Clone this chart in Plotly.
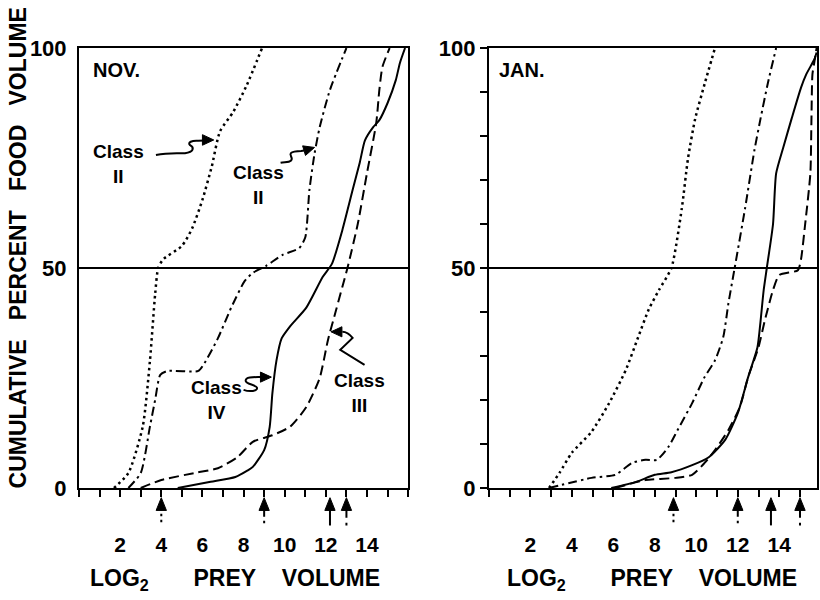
import plotly.graph_objects as go

# ---------------- data ----------------
x_tick_vals = list(range(0, 17))
x_tick_labels = ["", "", "2", "", "4", "", "6", "", "8", "", "10", "", "12", "", "14", "", ""]
y_tick_vals_left = [0, 50, 100]
y_tick_labels_left = ["0", "50", "100"]
y_minor_ticks = [10, 20, 30, 40, 60, 70, 80, 90]
y_tick_vals_right = [0, 10, 20, 30, 40, 50, 60, 70, 80, 90, 100]
y_tick_labels_right = ["0", "", "", "", "", "50", "", "", "", "", "100"]

# NOV. panel
nov_dot_x = [1.7, 2.4, 3.1, 3.45, 3.7, 3.85, 4.1, 5.0, 5.5, 6.0, 6.45, 6.85, 7.5, 8.15, 8.9]
nov_dot_y = [0, 3.4, 14, 29, 44, 50, 52, 55, 59, 65.5, 73, 81, 85.5, 91.5, 100]
nov_dashdot_x = [2.4, 3.0, 3.45, 3.7, 3.95, 4.3, 5.8, 6.1, 6.75, 7.4, 8.05, 8.45, 9.1, 9.9, 10.7, 11.0, 11.2, 11.45, 11.7, 12.2, 13.0]
nov_dashdot_y = [0, 3.4, 14, 20, 25.7, 26.6, 26.6, 28.4, 34, 41, 47, 48.9, 50.5, 53, 54.5, 57, 67.7, 76, 82, 90.5, 100]
nov_solid_x = [4.8, 6.4, 7.6, 8.2, 8.45, 9.0, 9.27, 9.4, 9.6, 9.85, 10.25, 11.05, 11.85, 12.3, 12.8, 13.3, 13.65, 13.9, 14.3, 14.6, 15.0, 15.4, 15.6, 15.85]
nov_solid_y = [0, 1.4, 2.5, 4, 4.8, 8.6, 13.9, 21.5, 29, 34, 36.7, 41, 48, 51, 58.6, 67.7, 74, 79, 82, 83.6, 87.5, 92.7, 96.6, 100]
nov_dash_x = [3.0, 4.0, 5.6, 6.75, 7.7, 8.45, 9.4, 10.25, 11.05, 11.7, 12.1, 12.5, 12.8, 13.05, 13.55, 14.0, 14.45, 14.6, 14.75, 15.1]
nov_dash_y = [0, 1.8, 3.4, 4.5, 7, 10.5, 12, 13.9, 18.4, 25, 33.6, 40.5, 45.7, 50, 60, 71.6, 83, 90.5, 95.7, 100]
nov_medians = [4.0, 9.0, 12.2, 13.0]   # dot, dashdot, solid, dash

# JAN. panel
jan_dot_x = [2.9, 3.4, 4.0, 4.95, 5.8, 6.6, 7.2, 7.7, 8.2, 8.8, 9.3, 9.6, 9.95, 10.4, 10.9]
jan_dot_y = [0, 3.4, 8, 12.8, 19.3, 26.8, 34.3, 40.5, 45, 50, 63.5, 74.9, 84, 91.8, 100]
jan_dashdot_x = [2.9, 4.95, 6.1, 6.9, 7.55, 8.1, 8.65, 9.1, 9.8, 10.4, 10.9, 11.3, 11.55, 11.85, 12.35, 12.8, 13.1, 13.45, 13.85]
jan_dashdot_y = [0, 2.3, 3, 5.7, 6.4, 6.4, 9.3, 13.2, 19.3, 25.2, 29, 34.3, 42, 50, 63.5, 76.7, 84, 92, 100]
jan_solid_x = [5.9, 7.1, 8.0, 8.8, 9.8, 10.6, 11.4, 12.0, 12.5, 12.95, 13.1, 13.25, 13.4, 13.7, 13.85, 14.2, 14.6, 15.05, 15.3, 15.7, 15.8]
jan_solid_y = [0, 1.4, 3, 3.6, 5.2, 7, 11, 17, 25.2, 32, 38, 45, 50, 60, 71.5, 77.5, 84, 91, 94, 97.5, 99]
jan_dash_x = [6.1, 7.55, 9.0, 9.8, 10.4, 10.9, 11.55, 12.1, 12.5, 13.0, 13.3, 13.7, 14.0, 14.9, 15.05, 15.25, 15.5, 15.55, 15.6, 15.7, 15.8]
jan_dash_y = [0, 1.8, 2.3, 3, 5.7, 8.6, 13.2, 18.4, 25.2, 32, 38, 45, 48.4, 49.5, 52, 60, 71.5, 83, 94, 97, 100]
jan_medians = [8.9, 12.0, 13.6, 15.0]

# ---------------- styles ----------------
FONT = "Liberation Sans"
BLACK = "black"
STYLES = {
    "dot": dict(width=2.5, dash="2.5px,3.5px"),
    "dashdot": dict(width=2, dash="9px,4px,2.5px,4px"),
    "solid": dict(width=2, dash="solid"),
    "dash": dict(width=2, dash="10px,5px"),
}
ORDER = ["dot", "dashdot", "solid", "dash"]

fig = go.Figure()

panels = [
    ("x", "y", [(nov_dot_x, nov_dot_y), (nov_dashdot_x, nov_dashdot_y),
                (nov_solid_x, nov_solid_y), (nov_dash_x, nov_dash_y)], nov_medians),
    ("x2", "y2", [(jan_dot_x, jan_dot_y), (jan_dashdot_x, jan_dashdot_y),
                  (jan_solid_x, jan_solid_y), (jan_dash_x, jan_dash_y)], jan_medians),
]

shapes = []
for xa, ya, curves, medians in panels:
    for key, (cx, cy) in zip(ORDER, curves):
        st = STYLES[key]
        fig.add_trace(go.Scatter(
            x=cx, y=cy, mode="lines", xaxis=xa, yaxis=ya, showlegend=False,
            hoverinfo="skip",
            line=dict(color=BLACK, width=st["width"], dash=st["dash"],
                      shape="spline", smoothing=0.6)))
    # median arrows below the axis (x in data units, y in axis-domain units)
    for key, m in zip(ORDER, medians):
        st = STYLES[key]
        shapes.append(dict(type="line", xref=xa, yref=ya + " domain",
                           x0=m, x1=m, y0=-0.045, y1=-0.085,
                           line=dict(color=BLACK, width=2, dash=st["dash"])))
        shapes.append(dict(type="path", xref=xa, yref=ya + " domain",
                           path=f"M {m-0.25},-0.051 L {m},-0.022 L {m+0.25},-0.051 Z",
                           fillcolor=BLACK, line=dict(color=BLACK, width=1)))
    # 50 % line
    shapes.append(dict(type="line", xref=xa + " domain", yref=ya, x0=0, x1=1,
                       y0=50, y1=50, line=dict(color=BLACK, width=2)))

# squiggly label arrows (NOV. panel) and their heads
squiggles = [
    "M 3.74,75.7 C 4.4,76.3 4.9,76.0 5.15,76.1 C 5.6,76.4 5.6,77.4 5.4,77.9 C 5.25,78.6 5.5,79.0 5.8,78.9 L 6.1,79.0",
    "M 9.8,73.9 C 10.0,74.1 10.2,74.0 10.3,74.4 C 10.45,75.0 10.2,75.6 10.3,76.1 C 10.4,76.6 10.6,76.6 10.8,76.6 L 10.95,76.7",
    "M 8.0,22.3 C 8.3,21.8 8.7,22.0 8.65,22.8 C 8.6,23.5 8.1,23.6 8.1,24.4 C 8.1,25.3 8.5,25.2 8.85,25.2",
    "M 13.88,28.0 L 12.7,31.4 L 13.3,34.1 C 13.1,35.3 12.9,35.5 12.8,35.5",
]
heads = [
    "M 6.55,79.1 L 6.0,80.3 L 6.0,77.9 Z",
    "M 11.45,77.4 L 10.87,77.76 L 11.01,75.58 Z",
    "M 9.35,25.2 L 8.82,26.35 L 8.82,24.05 Z",
    "M 12.25,35.5 L 12.78,36.65 L 12.78,34.35 Z",
]
for p in squiggles:
    shapes.append(dict(type="path", xref="x", yref="y", path=p,
                       line=dict(color=BLACK, width=2)))
for p in heads:
    shapes.append(dict(type="path", xref="x", yref="y", path=p, fillcolor=BLACK,
                       line=dict(color=BLACK, width=1)))

ann_font = dict(family=FONT, size=19, color=BLACK, weight="bold")
annotations = []
labels = [
    ("x", "y", 1.94, 73.6, "Class<br>II"),
    ("x", "y", 8.74, 68.9, "Class<br>II"),
    ("x", "y", 6.7, 20.0, "Class<br>IV"),
    ("x", "y", 13.64, 21.6, "Class<br>III"),
]
for xr, yr, lx, ly, t in labels:
    annotations.append(dict(xref=xr, yref=yr, x=lx, y=ly, text=t, showarrow=False,
                            font=ann_font, align="center", xanchor="center",
                            yanchor="middle"))
annotations.append(dict(xref="x", yref="y", x=0.58, y=95, text="NOV.", showarrow=False,
                        xanchor="left", yanchor="middle",
                        font=dict(family=FONT, size=20, color=BLACK, weight="bold")))
annotations.append(dict(xref="x2", yref="y2", x=0.38, y=95, text="JAN.", showarrow=False,
                        xanchor="left", yanchor="middle",
                        font=dict(family=FONT, size=20, color=BLACK, weight="bold")))
title_font = dict(family=FONT, size=23, color=BLACK, weight="bold")
nb = "\u00a0"
xt = "LOG<sub>2</sub>" + nb * 7 + "PREY" + nb * 4 + "VOLUME"
annotations.append(dict(xref="paper", yref="paper", x=0.212, y=-0.209, text=xt,
                        xanchor="center", yanchor="middle",
                        showarrow=False, font=title_font))
annotations.append(dict(xref="paper", yref="paper", x=0.776, y=-0.209, text=xt,
                        xanchor="center", yanchor="middle",
                        showarrow=False, font=title_font))
yt = "CUMULATIVE" + nb * 3 + "PERCENT" + nb * 3 + "FOOD" + nb * 3 + "VOLUME"
annotations.append(dict(xref="paper", yref="paper", x=-0.0824, y=0.545, text=yt,
                        xanchor="center", yanchor="middle",
                        textangle=-90, showarrow=False, font=title_font))

tick_font = dict(family=FONT, size=21, color=BLACK, weight="bold")
xcommon = dict(showline=True, linewidth=2, linecolor=BLACK, mirror=True,
               ticks="outside", ticklen=7, tickwidth=2, tickcolor=BLACK,
               tickvals=x_tick_vals, ticktext=x_tick_labels, tickfont=tick_font,
               showgrid=False, zeroline=False, ticklabelstandoff=30, fixedrange=True)

fig.update_layout(
    width=820, height=600,
    margin=dict(l=79, r=1, t=48, b=112),
    paper_bgcolor="white", plot_bgcolor="white",
    xaxis=dict(xcommon, domain=[0, 0.446], range=[0, 16], anchor="y"),
    xaxis2=dict(xcommon, domain=[0.5554, 1], range=[0, 15.82], anchor="y2"),
    yaxis=dict(domain=[0, 1], range=[0, 100], anchor="x", showline=True, linewidth=2,
               linecolor=BLACK, mirror=True, ticks="", tickvals=y_tick_vals_left,
               ticktext=y_tick_labels_left, tickfont=dict(tick_font, size=22),
               showgrid=False, zeroline=False, ticklabelstandoff=6),
    yaxis3=dict(overlaying="y", side="right", anchor="x", range=[0, 100],
                tickvals=y_minor_ticks, ticks="outside", ticklen=7, tickwidth=2,
                tickcolor=BLACK, showticklabels=False, showline=False,
                showgrid=False, zeroline=False),
    yaxis2=dict(domain=[0, 1], range=[0, 100], anchor="x2", showline=True, linewidth=2,
                linecolor=BLACK, mirror=True, ticks="outside", ticklen=7, tickwidth=2,
                tickcolor=BLACK, tickvals=y_tick_vals_right, ticktext=y_tick_labels_right,
                tickfont=dict(tick_font, size=22), showgrid=False, zeroline=False),
    shapes=shapes,
    annotations=annotations,
)

fig.write_html("out.html")
